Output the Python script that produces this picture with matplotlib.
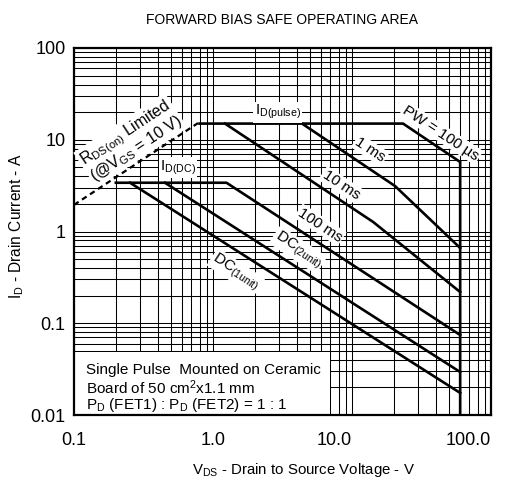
import matplotlib
matplotlib.use('Agg')
import matplotlib.pyplot as plt
from matplotlib.patches import Rectangle

plt.rcParams['font.family'] = ['Liberation Sans', 'DejaVu Sans']
plt.rcParams['mathtext.fontset'] = 'custom'
plt.rcParams['mathtext.rm'] = 'Liberation Sans'
plt.rcParams['mathtext.it'] = 'Liberation Sans'
plt.rcParams['mathtext.default'] = 'regular'

# curves (V_DS in volts, I_D in amps)
rds_v = [0.1, 0.78]
rds_i = [1.95, 15.2]

pw100_v = [0.8, 23.3, 60, 60]
pw100_i = [15, 15, 5.72, 0.01]

ms1_v = [4.37, 20.4, 60]
ms1_i = [15, 3.13, 0.661]

ms10_v = [1.22, 14.2, 60]
ms10_i = [15, 1.27, 0.219]

ms100_v = [0.2, 1.25, 60]
ms100_i = [3.4, 3.4, 0.0745]

dc2_v = [0.451, 60]
dc2_i = [3.4, 0.0294]

dc1_v = [0.253, 60]
dc1_i = [3.4, 0.0174]

xticks = [0.1, 1, 10, 100]
xticklabels = ['0.1', '1.0', '10.0', '100.0']
yticks = [0.01, 0.1, 1, 10, 100]
yticklabels = ['0.01', '0.1', '1', '10', '100']

fig = plt.figure(figsize=(5.16, 4.84), dpi=100)
ax = fig.add_axes([74 / 516, 1 - 415 / 484, 417 / 516, 367 / 484])
ax.set_xscale('log')
ax.set_yscale('log')
ax.set_xlim(0.1, 100)
ax.set_ylim(0.01, 100)

ax.set_axisbelow(True)
ax.grid(True, which='both', color='black', lw=0.75)

for s in ax.spines.values():
    s.set_linewidth(1.6)

ax.set_xticks(xticks)
ax.set_xticklabels(xticklabels)
ax.set_yticks(yticks)
ax.set_yticklabels(yticklabels)
ax.tick_params(which='both', length=0, labelsize=13)
ax.tick_params(axis='x', pad=12)
ax.tick_params(axis='y', pad=6)
for lbl in ax.get_xticklabels()[2:]:
    lbl.set_horizontalalignment('right')

lw = 1.9
ax.plot(rds_v, rds_i, color='black', lw=1.6, ls=(0, (2.5, 1.8)))
for v, i in [(pw100_v, pw100_i), (ms1_v, ms1_i), (ms10_v, ms10_i),
             (ms100_v, ms100_i), (dc2_v, dc2_i), (dc1_v, dc1_i)]:
    ax.plot(v, i, color='black', lw=lw, solid_joinstyle='miter')

# condition box in the lower left corner
ax.add_patch(Rectangle((0, 0), 256 / 417, 63 / 367, transform=ax.transAxes,
                       facecolor='white', edgecolor='none', zorder=2))
box_kw = dict(transform=ax.transAxes, fontsize=11, va='center', ha='left', zorder=3)
ax.text(0.029, 0.123, 'Single Pulse  Mounted on Ceramic', **box_kw)
ax.text(0.029, 0.074, r'Board of 50 cm$^2$x1.1 mm', **box_kw)
ax.text(0.029, 0.027, r'P$_{D}$ (FET1) : P$_{D}$ (FET2) = 1 : 1', **box_kw)

bb = dict(facecolor='white', edgecolor='none', pad=1)
rot = 33.4
ax.text(2.0, 20, r'I$_{D(pulse)}$', fontsize=11, ha='left', va='center', bbox=bb)
ax.text(0.416, 4.93, r'I$_{D(DC)}$', fontsize=11, ha='left', va='center', bbox=bb)
ax.text(0.257, 9.7, 'R$_{DS(on)}$ Limited\n(@V$_{GS}$ = 10 V)', fontsize=11.5,
        ha='center', va='center', rotation=rot, rotation_mode='anchor',
        multialignment='center', linespacing=0.85, bbox=bb)
ax.text(43.7, 11.8, r'PW = 100 µs', fontsize=11, ha='center', va='center',
        rotation=-rot, rotation_mode='anchor', bbox=bb)
ax.text(13.5, 7.74, '1 ms', fontsize=11, ha='center', va='center',
        rotation=-rot, rotation_mode='anchor', bbox=bb)
ax.text(8.34, 3.22, '10 ms', fontsize=11, ha='center', va='center',
        rotation=-rot, rotation_mode='anchor', bbox=bb)
ax.text(5.89, 1.18, '100 ms', fontsize=11, ha='center', va='center',
        rotation=-rot, rotation_mode='anchor', bbox=bb)
ax.text(4.09, 0.63, r'DC$_{(2unit)}$', fontsize=11, ha='center', va='center',
        rotation=-rot, rotation_mode='anchor', bbox=bb)
ax.text(1.46, 0.362, r'DC$_{(1unit)}$', fontsize=11, ha='center', va='center',
        rotation=-rot, rotation_mode='anchor', bbox=bb)

fig.text(282 / 516, 1 - 20 / 484, 'FORWARD BIAS SAFE OPERATING AREA',
         fontsize=10, ha='center', va='center')
fig.text(303 / 516, 1 - 470 / 484, r'V$_{DS}$ - Drain to Source Voltage - V',
         fontsize=10.8, ha='center', va='center')
fig.text(17 / 516, 1 - 226 / 484, r'I$_{D}$ - Drain Current - A',
         fontsize=11.2, ha='center', va='center', rotation=90)

fig.savefig('out.png', dpi=100)
